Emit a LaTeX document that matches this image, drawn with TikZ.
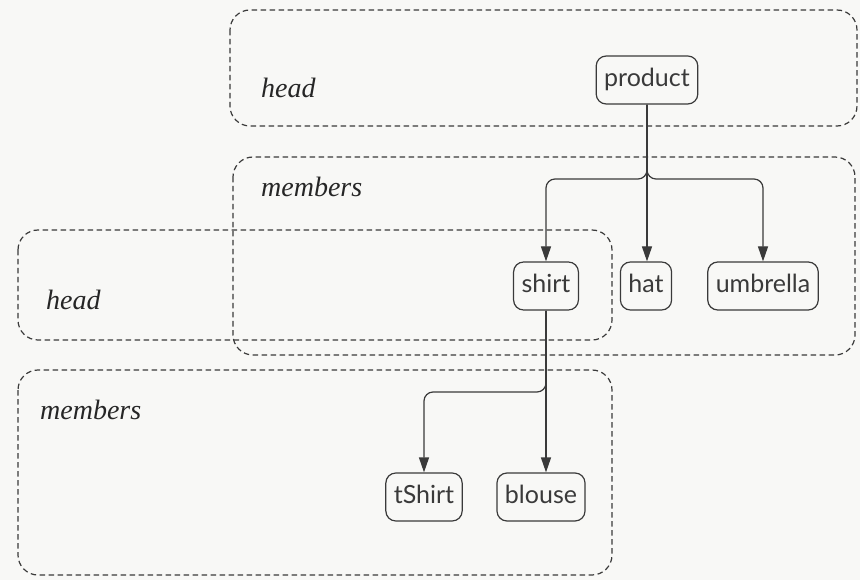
\documentclass[tikz,border=0pt]{standalone}
\usepackage{fontspec}
\setmainfont{Liberation Serif}
\newfontfamily\nodefont{Lato}
\usetikzlibrary{arrows.meta}
\definecolor{ink}{HTML}{3A3A3A}
\definecolor{paper}{HTML}{F8F8F6}
\begin{document}
\begin{tikzpicture}[x=1pt,y=-1pt,
  group/.style={draw=ink, dash pattern=on 5.5pt off 3.5pt, line width=1.2pt, rounded corners=20pt},
  item/.style={draw=ink, line width=1.2pt, rounded corners=10pt, text=ink,
    font=\nodefont\fontsize{25}{28}\selectfont, inner xsep=8pt, inner ysep=0pt,
    minimum height=48pt, text height=18pt, text depth=5pt},
  tag/.style={font=\fontsize{28}{30}\selectfont\itshape, text=black!85, anchor=base west, inner sep=0pt},
  link/.style={draw=ink, line width=1.2pt, rounded corners=9pt, -{Triangle[length=15pt,width=10pt]}}]
  % page
  \fill[paper] (0,0) rectangle (860,580);
  \useasboundingbox (0,0) rectangle (860,580);

  % grouping frames
  \draw[group] (230,10) rectangle (857,126);
  \draw[group] (233,157) rectangle (855,355);
  \draw[group] (18,230) rectangle (612,340);
  \draw[group] (18,370) rectangle (612,575);

  % frame captions
  \node[tag] (tHeadA) at (261,98) {head};
  \node[tag] (tMembA) at (261,197) {members};
  \node[tag] (tHeadB) at (46,309) {head};
  \node[tag] (tMembB) at (40,419) {members};

  % elements
  \node[item] (product) at (647,80) {product};
  \node[item] (shirt) at (546,286) {shirt};
  \node[item] (hat) at (646,286) {hat};
  \node[item] (umbrella) at (763,286) {umbrella};
  \node[item] (tShirt) at (424,497) {tShirt};
  \node[item] (blouse) at (541,497) {blouse};

  % branching connectors
  \coordinate (forkA) at (product.south |- 0,179);
  \draw[link] (product.south) -- (forkA) -| (shirt.north);
  \draw[link] (product.south) -- (forkA) -| (umbrella.north);
  \draw[link] (product.south) -- (product.south |- hat.north);

  \coordinate (forkB) at (shirt.south |- 0,392);
  \draw[link] (shirt.south) -- (forkB) -| (tShirt.north);
  \draw[link] (shirt.south) -- (shirt.south |- blouse.north);
\end{tikzpicture}
\end{document}
